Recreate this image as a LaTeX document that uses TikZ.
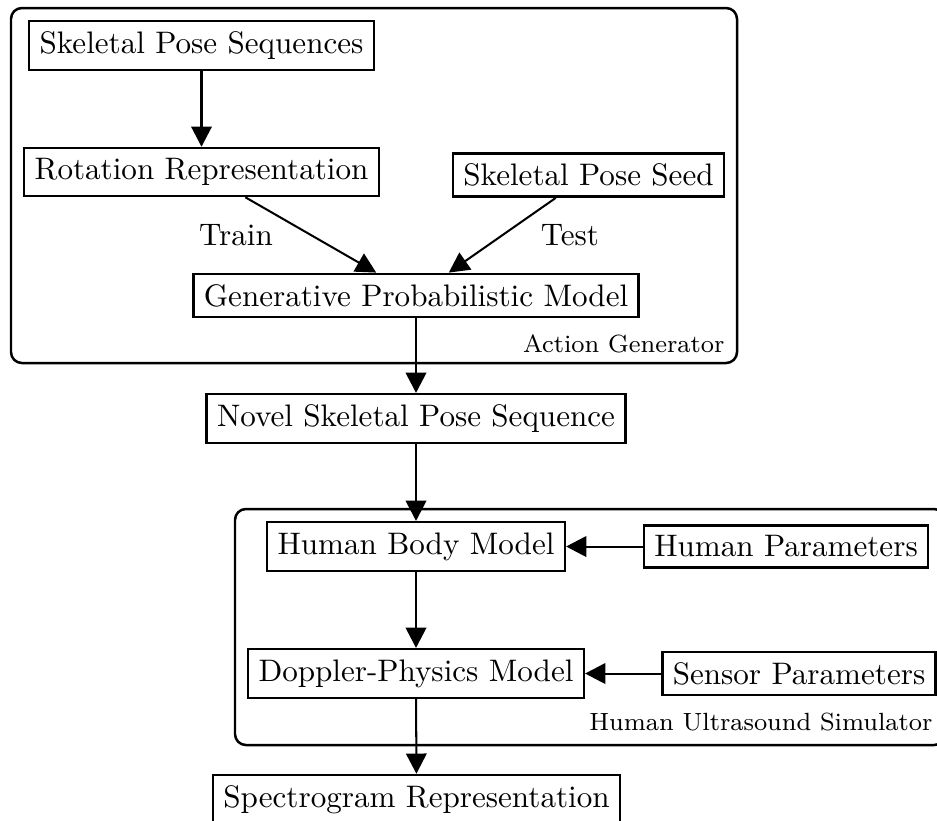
\documentclass[tikz,border=0pt]{standalone}
\usetikzlibrary{arrows.meta}
\tikzset{
  box/.style={draw, line width=0.8pt, inner sep=0.3333em, font=\normalsize},
  frame/.style={draw, line width=0.8pt, rounded corners=3.5pt},
  conn/.style={line width=0.65pt, -{Triangle[length=6.5pt,width=6.6pt]}},
  lbl/.style={font=\normalsize, inner sep=0pt},
  flbl/.style={font=\footnotesize, inner sep=0pt}
}
\begin{document}
\begin{tikzpicture}[x=0.3215pt, y=-0.3215pt]
\useasboundingbox (0,0) rectangle (937,820);
\clip (0,0) rectangle (937,820);
% containers
\draw[frame] (11,8) rectangle (737,363);
\draw[frame] (235,509) rectangle (945,745);
% nodes
\node[box] (sps) at (201.5,45.5) {Skeletal Pose Sequences};
\node[box] (rot) at (201.5,172) {Rotation Representation};
\node[box] (seed) at (588.5,175) {Skeletal Pose Seed};
\node[box] (gen) at (416,295.5) {Generative Probabilistic Model};
\node[box] (novel) at (416,418.5) {Novel Skeletal Pose Sequence};
\node[box] (hbm) at (416,546.5) {Human Body Model};
\node[box] (hp) at (786,546.5) {Human Parameters};
\node[box] (dpm) at (416,673.5) {Doppler-Physics Model};
\node[box] (sp) at (799,673.5) {Sensor Parameters};
\node[box] (spec) at (416.5,799.5) {Spectrogram Representation};
% labels
\node[lbl, anchor=base] (train) at (236,245) {Train};
\node[lbl, anchor=base] (test) at (570,245) {Test};
\node[flbl, anchor=base east] (ag) at (725,352) {Action Generator};
\node[flbl, anchor=base east] (hus) at (933,730) {Human Ultrasound Simulator};
% connectors
\draw[conn] (sps) -- (rot);
\draw[conn] (rot) -- (gen);
\draw[conn] (seed) -- (gen);
\draw[conn] (gen) -- (novel);
\draw[conn] (novel) -- (hbm);
\draw[conn] (hp) -- (hbm);
\draw[conn] (hbm) -- (dpm);
\draw[conn] (sp) -- (dpm);
\draw[conn] (dpm) -- (spec);
\end{tikzpicture}
\end{document}
